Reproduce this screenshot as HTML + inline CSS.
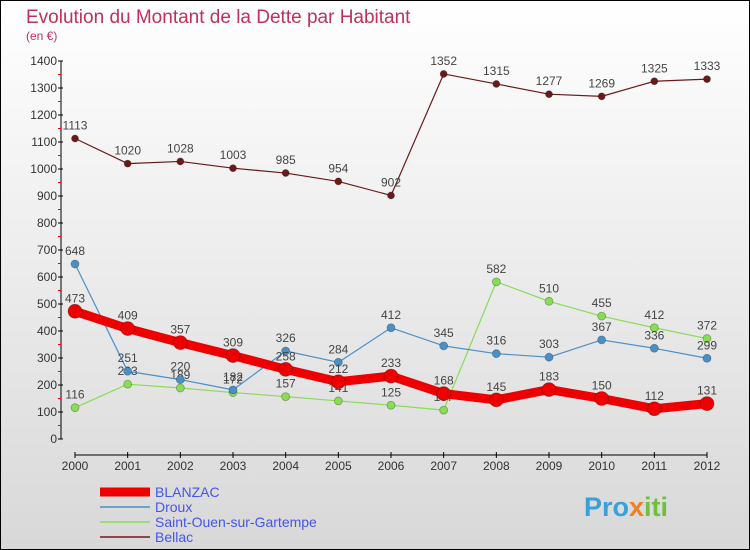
<!DOCTYPE html>
<html><head><meta charset="utf-8"><style>
body{margin:0;width:750px;height:550px;overflow:hidden;font-family:"Liberation Sans",sans-serif}
svg{display:block}
</style></head><body>
<svg width="750" height="550" xmlns="http://www.w3.org/2000/svg">
<defs><linearGradient id="bg" x1="0" y1="0" x2="0" y2="1"><stop offset="0" stop-color="#ffffff"/><stop offset="1" stop-color="#d8d8d8"/></linearGradient></defs>
<rect x="0.5" y="0.5" width="749" height="549" fill="url(#bg)" stroke="#000"/>
<text x="26" y="23" font-size="19" fill="#c0305a">Evolution du Montant de la Dette par Habitant</text>
<text x="26" y="40" font-size="12" fill="#c0305a">(en €)</text>
<g id="axes"></g><g id="series"></g><g id="legend"></g>
<text x="584" y="516" font-size="27" font-weight="bold" fill="#3aa0d8">Pro<tspan fill="#f08020">x</tspan><tspan fill="#70c040">iti</tspan></text>
</svg>
<script>
const years=[2000,2001,2002,2003,2004,2005,2006,2007,2008,2009,2010,2011,2012];
const yTicks=[0,100,200,300,400,500,600,700,800,900,1000,1100,1200,1300,1400];
const seriesNames=["BLANZAC","Droux","Saint-Ouen-sur-Gartempe","Bellac"];
const blanzac=[473,409,357,309,258,212,233,168,145,183,150,112,131];
const droux=[648,251,220,182,326,284,412,345,316,303,367,336,299];
const saintOuen=[116,203,189,172,157,141,125,107,582,510,455,412,372];
const bellac=[1113,1020,1028,1003,985,954,902,1352,1315,1277,1269,1325,1333];
const NS="http://www.w3.org/2000/svg";
const X=i=>75+i*(707-75)/(years.length-1);
const Y=v=>439-v*(439-61)/1400;
function mk(t,a,p){const e=document.createElementNS(NS,t);for(const k in a)e.setAttribute(k,a[k]);p.appendChild(e);return e;}
const ax=document.getElementById('axes');
const yl=mk('line',{x1:61,y1:61,x2:61,y2:439,stroke:'#000'},ax);


yTicks.forEach(v=>{
 mk('line',{x1:58,y1:Y(v),x2:63,y2:Y(v),stroke:'#000'},ax);
 if(v<1400)mk('line',{x1:58,y1:Y(v+50),x2:61,y2:Y(v+50),stroke:'#f00'},ax);
 const t=mk('text',{x:57,y:Y(v)+4,'font-size':12,'text-anchor':'end',fill:'#333'},ax);t.textContent=v;
 
 
});
const xl=mk('line',{x1:75,y1:455,x2:707,y2:455,stroke:'#000'},ax);


years.forEach((y,i)=>{
 mk('line',{x1:X(i),y1:452,x2:X(i),y2:458,stroke:'#000'},ax);
 const t=mk('text',{x:X(i),y:470,'font-size':12,'text-anchor':'middle',fill:'#333'},ax);t.textContent=y;
 
 
});
const sg=document.getElementById('series');
const defs=[
 {d:saintOuen,c:'#88dd55',w:1.2,r:4,n:'saint-ouen'},
 {d:droux,c:'#4a90c8',w:1.2,r:4,n:'droux'},
 {d:bellac,c:'#6b1a1a',w:1.2,r:3.5,n:'bellac'},
 {d:blanzac,c:'#ee0000',w:9,r:7,n:'blanzac'}];
defs.forEach(s=>{
 const g=mk('g',{},sg);
 
 
 const pl=mk('polyline',{points:s.d.map((v,i)=>X(i)+','+Y(v)).join(' '),fill:'none',stroke:s.c,'stroke-width':s.w,'stroke-linejoin':'round'},g);
 
 
 s.d.forEach((v,i)=>{
  const c=mk('circle',{cx:X(i),cy:Y(v),r:s.r,fill:s.c,stroke:'rgba(0,0,0,0.3)','stroke-width':0.8},g);
  
  
  const t=mk('text',{x:X(i),y:Y(v)-9,'font-size':12,'text-anchor':'middle',fill:'#444'},g);t.textContent=v;
  
  
 });
});
const lg=document.getElementById('legend');
const lc=['#ee0000','#4a90c8','#88dd55','#6b1a1a'],lw=[9,1.5,1.5,1.5];
seriesNames.forEach((n,i)=>{
 const y=492+i*15;
 const l=mk('line',{x1:100,y1:y,x2:150,y2:y,stroke:lc[i],'stroke-width':lw[i]},lg);
 
 
 const t=mk('text',{x:155,y:y+5,'font-size':14,fill:'#4455ee'},lg);t.textContent=n;
 
 
});
</script>
</body></html>
